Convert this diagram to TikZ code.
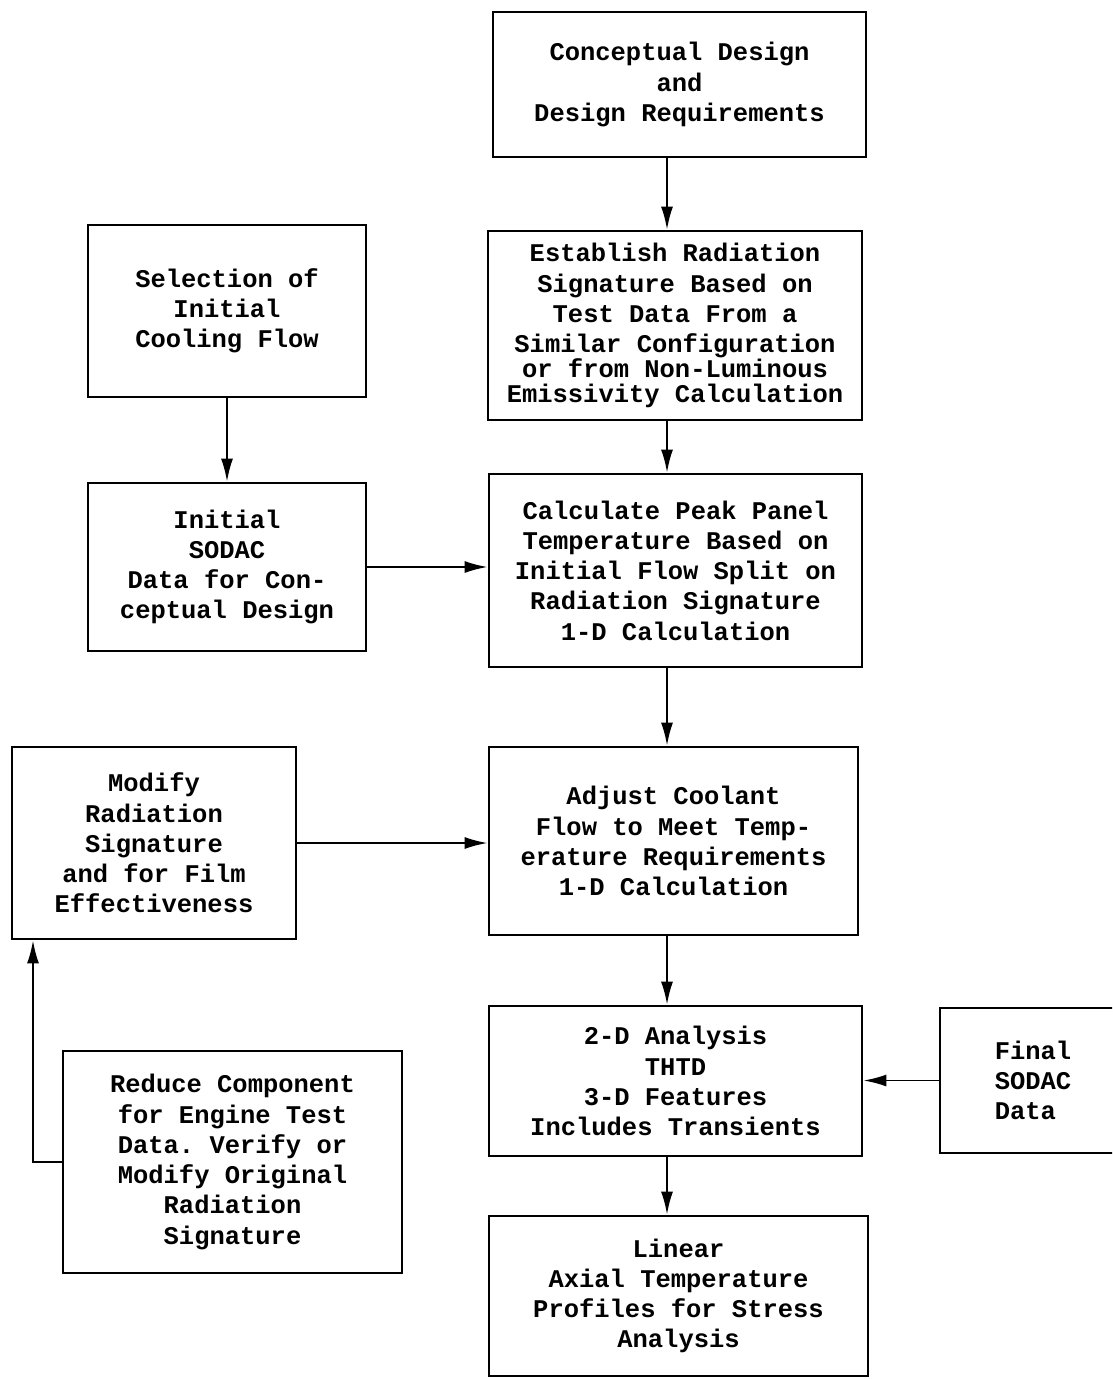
\documentclass[tikz,border=0pt]{standalone}
\usepackage{fontspec}
\setmonofont{Liberation Mono}
\usepackage{tikz}
\usetikzlibrary{arrows.meta,positioning}

\begin{document}
\begin{tikzpicture}[
    x=0.2mm, y=-0.2mm,
    box/.style={draw, line width=1.6pt, inner sep=0pt, align=center,
      font=\ttfamily\bfseries\fontsize{14.5}{17.2}\selectfont},
    arr/.style={-{Latex[length=4.6mm,width=2.4mm]}, line width=1.1pt}
  ]
    \useasboundingbox (0,0) rectangle (1112,1379);
    \clip (0,0) rectangle (1112,1379);

    \coordinate (spine) at (667,0);
    \coordinate (back) at (33,0);

    \node[box, minimum width=74.6mm, minimum height=29mm] (concept) at (679.5,84.5)
      {Conceptual Design\\and\\Design Requirements};
    \node[box, minimum width=74.8mm, minimum height=37.8mm] (radsig) at (675,325.5)
      {Establish Radiation\\Signature Based on\\Test Data From a\\Similar Configuration\\[-3pt]or from Non-Luminous\\[-3pt]Emissivity Calculation};
    \node[box, minimum width=55.6mm, minimum height=34.4mm] (select) at (227,311)
      {Selection of\\Initial\\Cooling Flow};
    \node[box, minimum width=55.6mm, minimum height=33.6mm] (initial) at (227,567)
      {Initial\\SODAC\\Data for Con-\\ceptual Design};
    \node[box, minimum width=74.6mm, minimum height=38.6mm] (peak) at (675.5,570.5)
      {Calculate Peak Panel\\Temperature Based on\\Initial Flow Split on\\Radiation Signature\\1-D Calculation};
    \node[box, minimum width=56.8mm, minimum height=38.4mm] (modify) at (154,843)
      {Modify\\Radiation\\Signature\\and for Film\\Effectiveness};
    \node[box, minimum width=73.8mm, minimum height=37.6mm] (adjust) at (673.5,841)
      {Adjust Coolant\\Flow to Meet Temp-\\erature Requirements\\1-D Calculation};
    \node[box, minimum width=74.6mm, minimum height=30mm] (twod) at (675.5,1081)
      {2-D Analysis\\THTD\\3-D Features\\Includes Transients};
    \node[box, align=left, minimum width=37.2mm, minimum height=29mm] (final) at (1033,1080.5)
      {Final\\SODAC\\Data};
    \node[box, minimum width=67.8mm, minimum height=44.4mm] (reduce) at (232.5,1162)
      {Reduce Component\\for Engine Test\\Data. Verify or\\Modify Original\\Radiation\\Signature};
    \node[box, minimum width=75.8mm, minimum height=32mm] (linear) at (678.5,1296)
      {Linear\\Axial Temperature\\Profiles for Stress\\Analysis};

    % main line
    \draw[arr] (concept.south -| spine) -- (radsig.north -| spine);
    \draw[arr] (radsig.south -| spine) -- (peak.north -| spine);
    \draw[arr] (peak.south -| spine) -- (adjust.north -| spine);
    \draw[arr] (adjust.south -| spine) -- (twod.north -| spine);
    \draw[arr] (twod.south -| spine) -- (linear.north -| spine);

    % side inputs
    \draw[arr] (select.south) -- (initial.north);
    \draw[arr] (initial.east) -- (initial.east -| peak.west);
    \draw[arr] (modify.east) -- (modify.east -| adjust.west);
    \draw[arr] (final.west) -- (final.west -| twod.east);
    \draw[arr] (reduce.west) -| (modify.south -| back);
  \end{tikzpicture}
\end{document}
